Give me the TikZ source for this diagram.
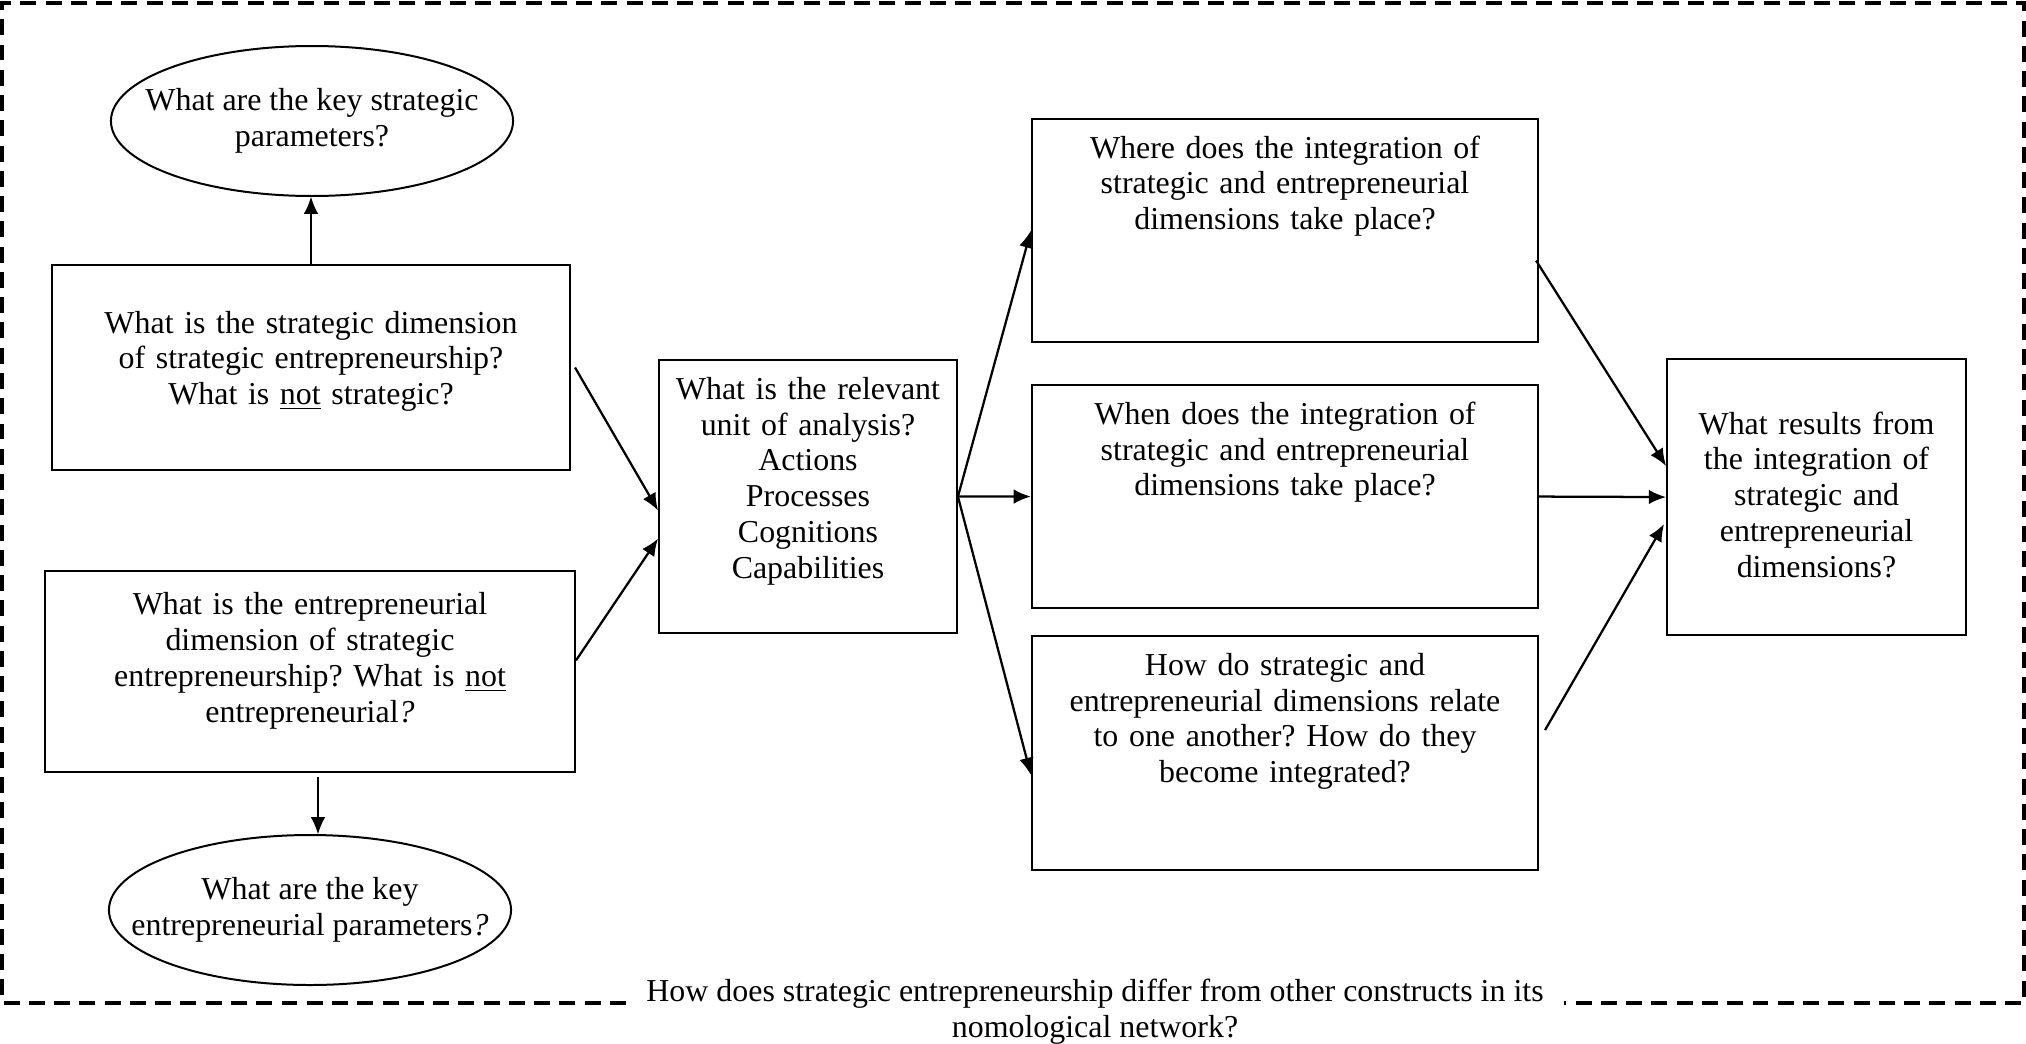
\documentclass[tikz,border=0pt]{standalone}
\usepackage{fontspec}
\setmainfont{Liberation Serif}
\usepackage{tikz}
\usetikzlibrary{arrows.meta}
\usetikzlibrary{calc}
\frenchspacing
\tikzset{
    qbox/.style={draw=black, line width=0.75pt, anchor=north, inner sep=0pt, align=center, text height=14.7pt},
    pbox/.style={inner sep=0pt, align=center, minimum width=151.2pt, minimum height=56.4pt},
    arr/.style={-{Latex[length=6.5pt,width=5.5pt]}, line width=0.85pt},
    netframe/.style={dash pattern=on 6pt off 3.5pt, line width=1.4pt}}

\begin{document}
\begin{tikzpicture}[x=0.376pt, y=-0.376pt, font=\fontsize{12pt}{13.5pt}\selectfont]

            \useasboundingbox (0,0) rectangle (2026,1043);

            \node[qbox, text width=194.8pt, text height=25.6pt, text depth=51.5pt] (A) at (311,264) {What is the strategic dimension\\of strategic entrepreneurship?\\What is \underline{not} strategic?};
            \node[qbox, text width=199.3pt, text height=16.5pt, text depth=59pt] (B) at (310,570) {What is the entrepreneurial\\dimension of strategic\\entrepreneurship? What is \underline{not}\\entrepreneurial\textit{?}};
            \node[pbox] (P) at (312,121) {What are the key strategic\\parameters?};
            \node[pbox] (Q) at (310,910) {What are the key\\entrepreneurial parameters\textit{?}};
            \draw[line width=0.75pt] (P.center) ellipse [x radius=75.6pt, y radius=28.2pt];
            \draw[line width=0.75pt] (Q.center) ellipse [x radius=75.6pt, y radius=28.2pt];

            \node[qbox, text width=112pt, text depth=88pt] (U) at (808,359) {What is the relevant\\unit of analysis?\\Actions\\Processes\\Cognitions\\Capabilities};

            \node[qbox, text width=190.3pt, text depth=69.2pt] (W) at (1285,118) {Where does the integration of\\strategic and entrepreneurial\\dimensions take place?};
            \node[qbox, text width=190.3pt, text depth=69.2pt] (N) at (1285,384) {When does the integration of\\strategic and entrepreneurial\\dimensions take place?};
            \node[qbox, text width=190.3pt, text depth=73.3pt] (H) at (1285,635) {How do strategic and\\entrepreneurial dimensions relate\\to one another? How do they\\become integrated?};

            \node[qbox, text width=112.4pt, text height=28.2pt, text depth=75.6pt] (R) at (1816.5,358) {What results from\\the integration of\\strategic and\\entrepreneurial\\dimensions?};

            \node[align=center, inner xsep=7.5pt] (T) at (1095,1012) {How does strategic entrepreneurship differ from other constructs in its\\nomological network?};

            % dashed frame, open where the question sits
            \coordinate (FL) at (2,1003);
            \coordinate (TL) at (2,3);
            \coordinate (TR) at (2024,3);
            \coordinate (FR) at (2024,1003);
            \draw[netframe] (T.west |- FL) -- (FL) -- (TL) -- (TR) -- (FR) -- (T.east |- FR);

            \draw[arr] (A.north) -- (A.north |- P.south);
            \draw[arr] ($(A.east)+(4,0)$) -- ($(U.west)+(0,14)$);
            \draw[arr] ($(B.east)+(0,-11)$) -- ($(U.west)+(0,42)$);
            \draw[arr] ($(B.south)+(8,4)$) -- ($(Q.north)+(8,0)$);

            \draw[arr] (U.east) -- (W.west);
            \draw[arr] (U.east) -- (N.west);
            \draw[arr] (U.east) -- ($(H.west)+(0,22)$);

            \draw[arr] ($(W.east)+(-3,30)$) -- ($(R.west)+(0,-31)$);
            \draw[arr] (N.east) -- (R.west);
            \draw[arr] ($(H.east)+(6,-23)$) -- ($(R.west)+(-2,27)$);

        \end{tikzpicture}
\end{document}
